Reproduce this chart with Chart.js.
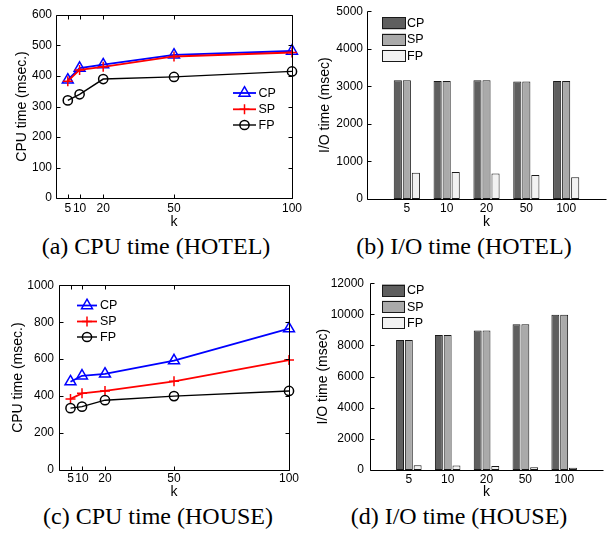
<!DOCTYPE html>
<html><head><meta charset="utf-8">
<script src="https://cdn.jsdelivr.net/npm/chart.js@4/dist/chart.umd.min.js"></script>
<style>
html,body{margin:0;padding:0;background:#fff}
body{width:613px;height:536px;position:relative;overflow:hidden}
canvas{position:absolute}
.cap{position:absolute;width:320px;text-align:center;font-family:'Liberation Serif','Times New Roman',serif;font-size:24px;line-height:24px;color:#000;white-space:nowrap}
</style></head><body>
<canvas id="ca" width="306" height="232" style="left:0;top:0"></canvas>
<canvas id="cb" width="307" height="232" style="left:306px;top:0"></canvas>
<canvas id="cc" width="306" height="232" style="left:0;top:270px"></canvas>
<canvas id="cd" width="307" height="232" style="left:306px;top:270px"></canvas>
<div class="cap" style="left:-4px;top:234px">(a) CPU time (HOTEL)</div>
<div class="cap" style="left:304px;top:234px">(b) I/O time (HOTEL)</div>
<div class="cap" style="left:-2px;top:504px">(c) CPU time (HOUSE)</div>
<div class="cap" style="left:299px;top:504px">(d) I/O time (HOUSE)</div>
<script>
// ---- data ----
const K = [5, 10, 20, 50, 100];
const SERIES = ['CP', 'SP', 'FP'];

const hotelCpuCP = [387, 426, 437, 469, 482];
const hotelCpuSP = [383, 420, 430, 464, 477];
const hotelCpuFP = [320, 340, 390, 397, 415];

const hotelIoCP = [3160, 3140, 3160, 3130, 3140];
const hotelIoSP = [3160, 3140, 3160, 3130, 3140];
const hotelIoFP = [700, 722, 682, 636, 580];

const houseCpuCP = [478, 510, 520, 592, 765];
const houseCpuSP = [385, 415, 428, 480, 595];
const houseCpuFP = [335, 343, 378, 400, 428];

const houseIoCP = [8350, 8680, 8960, 9360, 9980];
const houseIoSP = [8350, 8680, 8960, 9360, 9980];
const houseIoFP = [300, 290, 250, 170, 140];

const yTicksHotelCpu = [0, 100, 200, 300, 400, 500, 600];
const yTicksHotelIo = [0, 1000, 2000, 3000, 4000, 5000];
const yTicksHouseCpu = [0, 200, 400, 600, 800, 1000];
const yTicksHouseIo = [0, 2000, 4000, 6000, 8000, 10000, 12000];

// ---- styles ----
Chart.defaults.font.family = "'Liberation Sans', Arial, Helvetica, sans-serif";
Chart.defaults.font.size = 12;
Chart.defaults.color = '#000';

const lineStyles = [
  {color: '#0000ff', point: 'triangle', r: 6.3, w: 1.8},
  {color: '#ff0000', point: 'cross', r: 5, w: 1.8},
  {color: '#000000', point: 'circle', r: 4.6, w: 1.4}
];
const barColors = ['#5f5f5f', '#aaaaaa', '#f2f2f2'];

function drawMarker(ctx, style, x, y, r) {
  ctx.beginPath();
  if (style === 'triangle') {
    const a = 2 * Math.PI / 3;
    ctx.moveTo(x, y - r);
    ctx.lineTo(x + r * Math.sin(a), y - r * Math.cos(a));
    ctx.lineTo(x + r * Math.sin(2 * a), y - r * Math.cos(2 * a));
    ctx.closePath();
  } else if (style === 'cross') {
    ctx.moveTo(x, y - r); ctx.lineTo(x, y + r);
    ctx.moveTo(x - r, y); ctx.lineTo(x + r, y);
  } else {
    ctx.arc(x, y, r, 0, Math.PI * 2);
  }
  ctx.stroke();
}

const matlab = {
  id: 'matlab',
  afterDatasetsDraw(chart, args, o) {
    const ctx = chart.ctx, a = chart.chartArea;
    const L = Math.round(a.left) + 0.5, R = Math.round(a.right) + 0.5;
    const T = Math.round(a.top) + 0.5, B = Math.round(a.bottom) + 0.5;
    const tl = 4;
    ctx.save();
    ctx.strokeStyle = '#000'; ctx.lineWidth = 1;
    ctx.beginPath();
    if (o.box) { ctx.rect(L, T, R - L, B - T); }
    else { ctx.moveTo(L, T); ctx.lineTo(L, B); ctx.lineTo(R, B); }
    const ys = chart.scales.y;
    ys.ticks.forEach(t => {
      const py = Math.round(ys.getPixelForValue(t.value)) + 0.5;
      ctx.moveTo(L, py); ctx.lineTo(L + tl, py);
      if (o.box) { ctx.moveTo(R, py); ctx.lineTo(R - tl, py); }
    });
    if (o.box) {
      const xs = chart.scales.x;
      xs.ticks.forEach(t => {
        const px = Math.round(xs.getPixelForValue(t.value)) + 0.5;
        ctx.moveTo(px, B); ctx.lineTo(px, B - tl);
        ctx.moveTo(px, T); ctx.lineTo(px, T + tl);
      });
    }
    ctx.stroke();
    // legend
    const lg = o.legend;
    ctx.font = "12.5px 'Liberation Sans', Arial, sans-serif";
    ctx.textBaseline = 'middle'; ctx.textAlign = 'left';
    chart.data.datasets.forEach((ds, i) => {
      const y = lg.ys[i];
      if (lg.kind === 'line') {
        const st = lineStyles[i];
        ctx.strokeStyle = st.color; ctx.lineWidth = st.w;
        ctx.beginPath(); ctx.moveTo(lg.x1, y); ctx.lineTo(lg.x2, y); ctx.stroke();
        ctx.lineWidth = 1.5;
        drawMarker(ctx, st.point, (lg.x1 + lg.x2) / 2, y, st.r);
      } else {
        ctx.fillStyle = ds.backgroundColor;
        ctx.fillRect(lg.x1, y - lg.h / 2, lg.x2 - lg.x1, lg.h);
        ctx.strokeStyle = '#1a1a1a'; ctx.lineWidth = 1;
        ctx.strokeRect(lg.x1 + 0.5, Math.round(y - lg.h / 2) + 0.5, lg.x2 - lg.x1 - 1, lg.h - 1);
      }
      ctx.fillStyle = '#000';
      ctx.fillText(ds.label, lg.tx, y + 0.5);
    });
    ctx.restore();
  }
};

function lineChart(id, series, yTicks, g) {
  return new Chart(document.getElementById(id), {
    type: 'line',
    data: {
      datasets: series.map((arr, i) => ({
        label: SERIES[i],
        data: K.map((k, j) => ({x: k, y: arr[j]})),
        borderColor: lineStyles[i].color,
        borderWidth: lineStyles[i].w,
        pointStyle: lineStyles[i].point,
        pointRadius: lineStyles[i].r,
        pointBorderWidth: 1.5,
        pointBorderColor: lineStyles[i].color,
        pointBackgroundColor: 'rgba(0,0,0,0)',
        tension: 0, fill: false, clip: false,
        order: 3 - i
      }))
    },
    options: {
      responsive: false, animation: false, events: [],
      layout: {padding: {left: 0, top: g.top, right: g.right, bottom: 0}},
      scales: {
        x: {
          type: 'linear', min: 0, max: 100,
          afterBuildTicks(s) { s.ticks = K.map(v => ({value: v})); },
          grid: {display: false, drawTicks: false}, border: {display: false},
          ticks: {padding: g.xpad, autoSkip: false, maxRotation: 0, callback: v => String(v)},
          title: {display: true, text: 'k', font: {size: 14}, padding: {top: 0, bottom: g.kpad}},
          afterFit(s) { s.height = g.xh; }
        },
        y: {
          min: yTicks[0], max: yTicks[yTicks.length - 1],
          afterBuildTicks(s) { s.ticks = yTicks.map(v => ({value: v})); },
          grid: {display: false, drawTicks: false}, border: {display: false},
          ticks: {padding: g.ypad, callback: v => String(v)},
          title: {display: true, text: 'CPU time (msec.)', font: {size: 14}, padding: {top: g.tpad, bottom: 0}},
          afterFit(s) { s.width = g.yw; }
        }
      },
      plugins: {legend: {display: false}, tooltip: {enabled: false},
        matlab: {box: true, legend: g.legend}}
    },
    plugins: [matlab]
  });
}

function barChart(id, series, yTicks, g) {
  return new Chart(document.getElementById(id), {
    type: 'bar',
    data: {
      labels: ['', ...K.map(String), ''],
      datasets: series.map((arr, i) => ({
        label: SERIES[i],
        data: [null, ...arr, null],
        backgroundColor: barColors[i],
        borderColor: '#1a1a1a', borderWidth: 1, borderSkipped: false,
        categoryPercentage: 0.68, barPercentage: 0.9
      }))
    },
    options: {
      responsive: false, animation: false, events: [],
      layout: {padding: {left: 0, top: g.top, right: g.right, bottom: 0}},
      scales: {
        x: {
          offset: false,
          grid: {display: false, drawTicks: false}, border: {display: false},
          ticks: {padding: g.xpad, autoSkip: false, maxRotation: 0},
          title: {display: true, text: 'k', font: {size: 14}, padding: {top: 0, bottom: g.kpad}},
          afterFit(s) { s.height = g.xh; }
        },
        y: {
          min: yTicks[0], max: yTicks[yTicks.length - 1],
          afterBuildTicks(s) { s.ticks = yTicks.map(v => ({value: v})); },
          grid: {display: false, drawTicks: false}, border: {display: false},
          ticks: {padding: g.ypad, callback: v => String(v)},
          title: {display: true, text: 'I/O time (msec)', font: {size: 14}, padding: {top: g.tpad, bottom: 0}},
          afterFit(s) { s.width = g.yw; }
        }
      },
      plugins: {legend: {display: false}, tooltip: {enabled: false},
        matlab: {box: false, legend: g.legend}}
    },
    plugins: [matlab]
  });
}

lineChart('ca', [hotelCpuCP, hotelCpuSP, hotelCpuFP], yTicksHotelCpu,
  {top: 15, right: 14, xh: 34, yw: 56, xpad: 3, kpad: 1.6, ypad: 4, tpad: 13.3,
   legend: {kind: 'line', x1: 233, x2: 256, tx: 258.5, ys: [93, 109.3, 125]}});
barChart('cb', [hotelIoCP, hotelIoSP, hotelIoFP], yTicksHotelIo,
  {top: 7.3, right: 7, xh: 33, yw: 61, xpad: 2, kpad: 1.6, ypad: 4, tpad: 10.6,
   legend: {kind: 'box', x1: 76, x2: 100, h: 12, tx: 101, ys: [23.3, 39.5, 55.7]}});
lineChart('cc', [houseCpuCP, houseCpuSP, houseCpuFP], yTicksHouseCpu,
  {top: 15.3, right: 17, xh: 32, yw: 59, xpad: 1.5, kpad: 1, ypad: 5, tpad: 9.9,
   legend: {kind: 'line', x1: 77, x2: 97, tx: 100, ys: [35.5, 51.5, 67]}});
barChart('cd', [houseIoCP, houseIoSP, houseIoFP], yTicksHouseIo,
  {top: 7.3, right: 10, xh: 32, yw: 64, xpad: 2, kpad: 1, ypad: 6, tpad: 9,
   legend: {kind: 'box', x1: 76, x2: 99, h: 12, tx: 101, ys: [20.5, 36.7, 52.7]}});
</script>
</body></html>
